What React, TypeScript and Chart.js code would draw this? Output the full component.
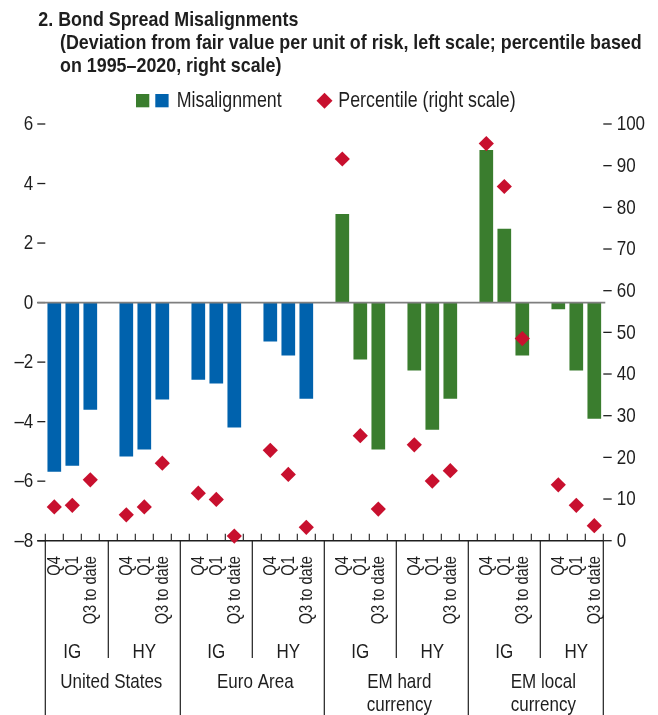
import React, { useEffect, useRef } from 'react';
import { Chart, registerables } from 'chart.js';

Chart.register(...registerables);

// ---------- data ----------
const titleLines = [
  '2. Bond Spread Misalignments',
  '(Deviation from fair value per unit of risk, left scale; percentile based',
  'on 1995\u20132020, right scale)',
];
const legendLabels = ['Misalignment', 'Percentile (right scale)'];
const regions = [['United States'], ['Euro Area'], ['EM hard', 'currency'], ['EM local', 'currency']];
const ratings = ['IG', 'HY'];
const periods = ['Q4', 'Q1', 'Q3 to date'];

// deviation from fair value per unit of risk (left scale), 8 groups x 3 periods
const misalignment = [
  -5.68, -5.48, -3.6,
  -5.17, -4.94, -3.26,
  -2.59, -2.72, -4.2,
  -1.31, -1.78, -3.23,
  2.98, -1.91, -4.94,
  -2.28, -4.27, -3.23,
  5.13, 2.48, -1.78,
  -0.22, -2.28, -3.9,
];
// percentile based on 1995-2020 (right scale)
const percentile = [
  8.1, 8.5, 14.6,
  6.2, 8.1, 18.6,
  11.4, 9.9, 1.1,
  21.7, 15.9, 3.2,
  91.6, 25.2, 7.6,
  23.0, 14.3, 16.8,
  95.3, 85.0, 48.5,
  13.4, 8.5, 3.6,
];
const leftTicks = [-8, -6, -4, -2, 0, 2, 4, 6];
const rightTicks = [0, 10, 20, 30, 40, 50, 60, 70, 80, 90, 100];

// ---------- styles ----------
const BLUE = '#0062AD';
const GREEN = '#3A7D2E';
const RED = '#C8102E';
const INK = '#1e1e1e';
const FF = '"Liberation Sans", Arial, sans-serif';
const SX = 0.81;

// ---------- build slot table (3 bars per group, one empty slot between groups) ----------
const slotLabels: string[] = [];
const barData: (number | null)[] = [];
const pctData: (number | null)[] = [];
const barColors: string[] = [];
const groupOfSlot: number[] = [];
{
  let k = 0;
  const nGroups = regions.length * ratings.length;
  for (let g = 0; g < nGroups; g++) {
    if (g > 0) {
      slotLabels.push('');
      barData.push(null);
      pctData.push(null);
      barColors.push('rgba(0,0,0,0)');
      groupOfSlot.push(-1);
    }
    for (let p = 0; p < periods.length; p++) {
      slotLabels.push(periods[p]);
      barData.push(misalignment[k]);
      pctData.push(percentile[k]);
      barColors.push(g < 4 ? BLUE : GREEN);
      groupOfSlot.push(g);
      k++;
    }
  }
}

function drawText(
  ctx: CanvasRenderingContext2D,
  text: string,
  x: number,
  y: number,
  font: string,
  align: CanvasTextAlign = 'left',
  baseline: CanvasTextBaseline = 'alphabetic',
  sx: number = SX,
  rot: number = 0,
  color: string = INK
) {
  ctx.save();
  ctx.translate(x, y);
  if (rot) ctx.rotate(rot);
  ctx.scale(sx, 1);
  ctx.font = font;
  ctx.fillStyle = color;
  ctx.textAlign = align;
  ctx.textBaseline = baseline;
  ctx.fillText(text, 0, 0);
  ctx.restore();
}

function seg(ctx: CanvasRenderingContext2D, x1: number, y1: number, x2: number, y2: number) {
  ctx.beginPath();
  ctx.moveTo(x1, y1);
  ctx.lineTo(x2, y2);
  ctx.stroke();
}

function diamond(ctx: CanvasRenderingContext2D, cx: number, cy: number, r: number) {
  ctx.beginPath();
  ctx.moveTo(cx, cy - r);
  ctx.lineTo(cx + r, cy);
  ctx.lineTo(cx, cy + r);
  ctx.lineTo(cx - r, cy);
  ctx.closePath();
  ctx.fill();
}

const fmt = (v: number) => (v < 0 ? '\u2013' + Math.abs(v) : String(v));

const decor = {
  id: 'decor',
  beforeDatasetsDraw(chart: any) {
    const ctx: CanvasRenderingContext2D = chart.ctx;
    const { left, right, bottom } = chart.chartArea;
    const xs = chart.scales.x;
    const ys = chart.scales.y;
    const ys1 = chart.scales.y1;
    const H = chart.height;
    const slotW = xs.getPixelForValue(1) - xs.getPixelForValue(0);
    const center = (i: number) => xs.getPixelForValue(i);
    const boundary = (i: number) => xs.getPixelForValue(i) - slotW / 2;
    const nSlots = slotLabels.length;

    ctx.save();
    ctx.lineCap = 'butt';

    // ----- title -----
    const tf = `bold 21px ${FF}`;
    ctx.font = tf;
    const tsx = 581.7 / ctx.measureText(titleLines[1]).width;
    drawText(ctx, titleLines[0], 38.3, 25.7, tf, 'left', 'alphabetic', tsx);
    drawText(ctx, titleLines[1], 60, 48.6, tf, 'left', 'alphabetic', tsx);
    drawText(ctx, titleLines[2], 60, 72.2, tf, 'left', 'alphabetic', tsx);

    // ----- legend -----
    ctx.fillStyle = GREEN;
    ctx.fillRect(136, 94, 13.3, 13.3);
    ctx.fillStyle = BLUE;
    ctx.fillRect(155.3, 94, 13.3, 13.3);
    drawText(ctx, legendLabels[0], 176.7, 106.9, `22px ${FF}`);
    ctx.fillStyle = RED;
    diamond(ctx, 324.5, 100.7, 8);
    drawText(ctx, legendLabels[1], 338.3, 106.9, `22px ${FF}`);

    // ----- left axis ticks & labels -----
    ctx.strokeStyle = INK;
    ctx.lineWidth = 1.3;
    leftTicks.forEach((v) => {
      const py = ys.getPixelForValue(v);
      seg(ctx, left - 8, py, left, py);
      drawText(ctx, fmt(v), left - 12, py + 0.5, `21px ${FF}`, 'right', 'middle');
    });
    // ----- right axis ticks & labels -----
    rightTicks.forEach((v) => {
      const py = ys1.getPixelForValue(v);
      seg(ctx, right, py, right + 8.4, py);
      drawText(ctx, String(v), right + 13.4, py + 0.5, `21px ${FF}`, 'left', 'middle');
    });

    // ----- bottom axis line -----
    ctx.lineWidth = 1.6;
    seg(ctx, left - 8, bottom, right, bottom);

    // ----- inward ticks at every slot boundary -----
    ctx.lineWidth = 1.1;
    for (let i = 0; i <= nSlots; i++) {
      const bx = boundary(i);
      seg(ctx, bx, bottom, bx, bottom - 7);
    }

    // ----- separators below axis -----
    ctx.lineWidth = 1.2;
    seg(ctx, left, bottom, left, H);
    seg(ctx, right, bottom, right, H);
    for (let i = 0; i < nSlots; i++) {
      if (groupOfSlot[i] !== -1) continue;
      const prevGroup = groupOfSlot[i - 1];
      const full = prevGroup % 2 === 1; // region boundary
      seg(ctx, center(i), bottom, center(i), full ? H : 658);
    }

    // ----- rotated period labels -----
    for (let i = 0; i < nSlots; i++) {
      if (groupOfSlot[i] === -1) continue;
      drawText(ctx, slotLabels[i], center(i) + 0.5, bottom + 15.5, `18px ${FF}`, 'right', 'middle', SX, -Math.PI / 2);
    }

    // ----- rating labels -----
    const nGroups = regions.length * ratings.length;
    for (let g = 0; g < nGroups; g++) {
      const mid = g * 4 + 1;
      drawText(ctx, ratings[g % 2], center(mid), 658.3, `21px ${FF}`, 'center');
    }

    // ----- region labels -----
    regions.forEach((lines, r) => {
      const first = r * 8;
      const last = r * 8 + 6;
      const cx = (center(first) + center(last)) / 2 + 3;
      lines.forEach((ln, j) => {
        drawText(ctx, ln, cx, 688.3 + j * 22.5, `21px ${FF}`, 'center');
      });
    });

    ctx.restore();
  },
  afterDatasetsDraw(chart: any) {
    const ctx: CanvasRenderingContext2D = chart.ctx;
    const { left, right } = chart.chartArea;
    const py = chart.scales.y.getPixelForValue(0);
    ctx.save();
    ctx.strokeStyle = '#7f7f7f';
    ctx.lineWidth = 1.6;
    seg(ctx, left - 8, py, right + 2, py);
    ctx.restore();
  },
};

export default function App() {
  const ref = useRef<HTMLCanvasElement>(null);
  useEffect(() => {
    const chart = new Chart(ref.current as HTMLCanvasElement, {
      type: 'bar',
      data: {
        labels: slotLabels,
        datasets: [
          {
            type: 'line',
            label: legendLabels[1],
            data: pctData,
            yAxisID: 'y1',
            showLine: false,
            pointStyle: 'rectRot',
            pointRadius: 7.6,
            pointHoverRadius: 7.6,
            pointBorderWidth: 0,
            pointBackgroundColor: RED,
            pointBorderColor: RED,
            backgroundColor: RED,
            borderColor: RED,
            clip: false as any,
            order: 0,
          } as any,
          {
            type: 'bar',
            label: legendLabels[0],
            data: barData,
            yAxisID: 'y',
            backgroundColor: barColors,
            barPercentage: 0.76,
            categoryPercentage: 1,
            order: 1,
          } as any,
        ],
      },
      options: {
        responsive: false,
        animation: false,
        devicePixelRatio: 1,
        events: [],
        layout: {
          autoPadding: false,
          padding: { left: 45.3, right: 54.7, top: 124, bottom: 174.3 },
        } as any,
        plugins: {
          legend: { display: false },
          tooltip: { enabled: false },
          title: { display: false },
        },
        scales: {
          x: { display: false, offset: true },
          y: { display: false, min: -8, max: 6 },
          y1: { display: false, min: 0, max: 100, position: 'right' },
        },
      },
      plugins: [decor],
    });
    return () => chart.destroy();
  }, []);
  return (
    <div style={{ position: 'absolute', left: 0, top: 0, width: 658, height: 715, background: '#fff' }}>
      <canvas ref={ref} width={658} height={715} style={{ display: 'block', width: 658, height: 715 }} />
    </div>
  );
}
